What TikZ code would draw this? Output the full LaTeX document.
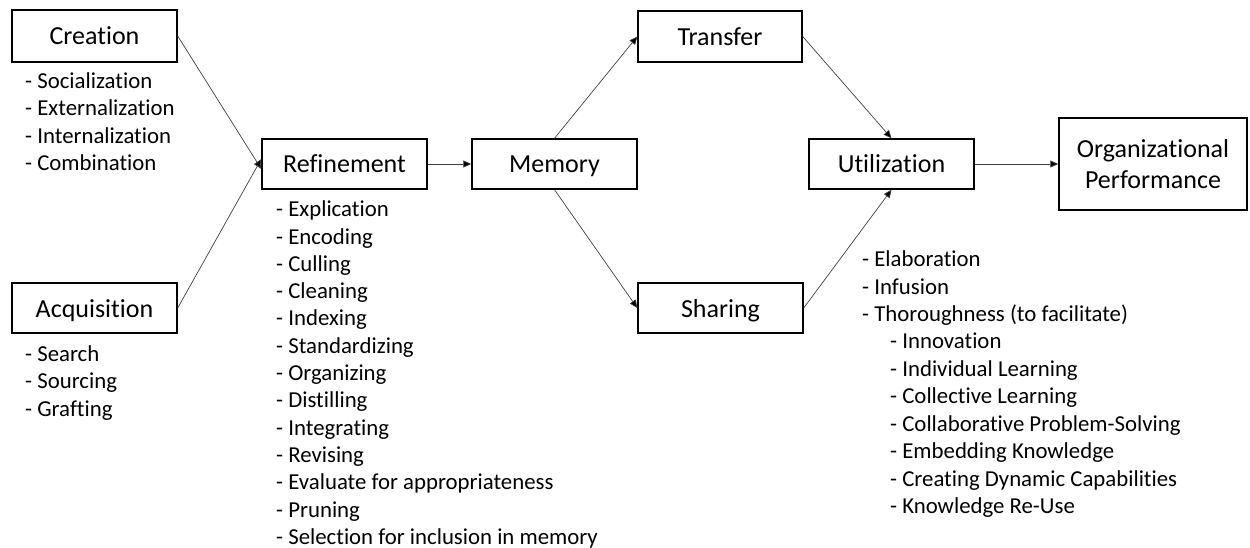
\documentclass[tikz,border=0pt]{standalone}
\usepackage{fontspec}
\setmainfont{Carlito}[Ligatures={NoCommon,NoRare,NoContextual}]
\usetikzlibrary{arrows.meta}
\begin{document}
\begin{tikzpicture}[x=1pt,y=-1pt,
  box/.style={draw, line width=1.4pt, inner sep=0, minimum width=165pt, minimum height=50pt, font=\fontsize{26}{31}\selectfont, align=center, text height=24pt, text depth=6pt},
  item/.style={anchor=base west, inner sep=0, font=\fontsize{22.8}{27}\selectfont},
  conn/.style={line width=0.7pt, draw=black!75, -{Triangle[length=8pt,width=7pt,fill=black]}}]
\useasboundingbox (0,0) rectangle (1250,548);

\node[box, minimum height=52pt] (cre) at (94.5,36) {Creation};
\node[box] (acq) at (94.5,308) {Acquisition};
\node[box] (ref) at (344.5,164) {Refinement};
\node[box] (mem) at (554.5,164) {Memory};
\node[box, minimum width=164pt, minimum height=51pt] (tra) at (720,36.5) {Transfer};
\node[box] (sha) at (720.5,308) {Sharing};
\node[box] (uti) at (891.5,164) {Utilization};
\node[box, minimum width=188pt, minimum height=92pt, text height=, text depth=] (org) at (1153,164) {Organizational\\Performance};

\coordinate (r1) at ([yshift=-5pt]ref.west);
\coordinate (r2) at ([yshift=5pt]ref.west);
\draw[conn] (cre.east) -- (r1);
\draw[conn] (acq.east) -- (r2);
\draw[conn] (ref.east) -- (mem.west);
\draw[conn] (mem.north) -- (tra.west);
\draw[conn] (mem.south) -- (sha.west);
\draw[conn] (tra.east) -- (uti.north);
\draw[conn] (sha.east) -- (uti.south);
\draw[conn] (uti.east) -- (org.west);

\foreach \t [count=\i] in {Socialization, Externalization, Internalization, Combination}
  \node[item] (cl\i) at (25, 88.3+27.4*\i-27.4) {- \t};
\foreach \t [count=\i] in {Search, Sourcing, Grafting}
  \node[item] (al\i) at (25, 361+27.7*\i-27.7) {- \t};
\foreach \t [count=\i] in {Explication, Encoding, Culling, Cleaning, Indexing, Standardizing, Organizing, Distilling, Integrating, Revising, Evaluate for appropriateness, Pruning, Selection for inclusion in memory}
  \node[item] (rl\i) at (276, 216.7+27.3*\i-27.3) {- \t};
\foreach \t [count=\i] in {Elaboration, Infusion, Thoroughness (to facilitate)}
  \node[item] (ul\i) at (862, 266.7+27.4*\i-27.4) {- \t};
\foreach \t [count=\i] in {Innovation, Individual Learning, Collective Learning, Collaborative Problem-Solving, Embedding Knowledge, Creating Dynamic Capabilities, Knowledge Re-Use}
  \node[item] (us\i) at (890, 348.5+27.5*\i-27.5) {- \t};
\end{tikzpicture}
\end{document}
